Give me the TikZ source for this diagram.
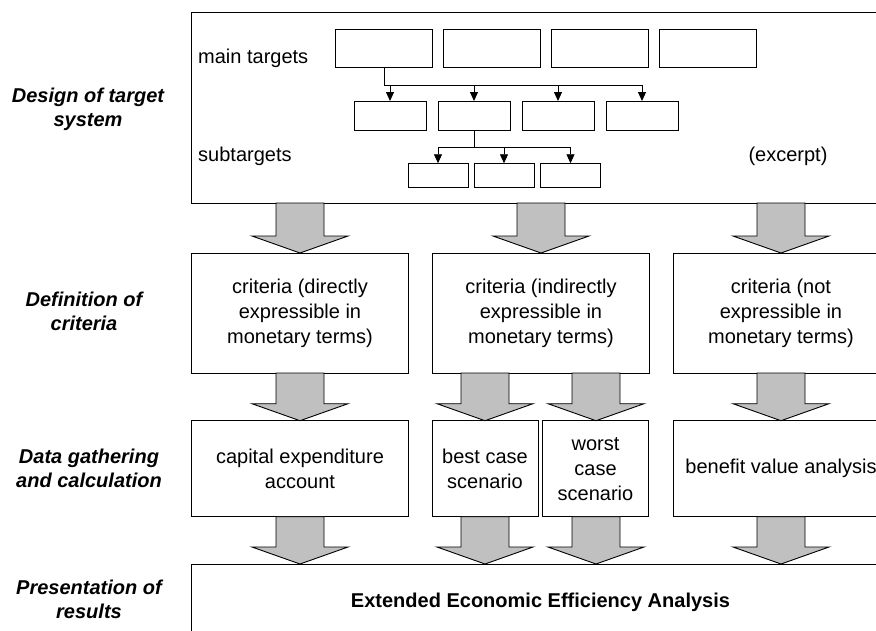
\documentclass[tikz,border=0pt]{standalone}
\usepackage{fontspec}
\setmainfont{Liberation Sans}
\usetikzlibrary{arrows.meta,calc}
\definecolor{arrowgray}{RGB}{192,192,192}
\tikzset{
  box/.style={draw=black, line width=0.9pt, fill=white, inner sep=0pt, outer sep=0pt,
              align=center, font=\fontsize{20}{25}\selectfont},
  lbl/.style={align=center, inner sep=0pt, font=\fontsize{20}{24}\selectfont\bfseries\itshape},
  txt/.style={inner sep=0pt, font=\fontsize{20}{25}\selectfont},
  conn/.style={draw=black, line width=0.9pt},
  tipped/.style={-{Triangle[length=9pt,width=8pt]}},
  big/.style={draw=black, line width=0.9pt, fill=arrowgray, line join=miter},
}
% #1 = x centre, #2 = source node, #3 = target node
\newcommand\garrow[3]{%
  \draw[big] let \p1=(#2.south), \p2=(#3.north) in
    (#1pt-24pt,\y1) -- (#1pt-24pt,\y2+17pt) -- (#1pt-48pt,\y2+17pt) -- (#1pt,\y2)
    -- (#1pt+48pt,\y2+17pt) -- (#1pt+24pt,\y2+17pt) -- (#1pt+24pt,\y1) -- cycle;}
\begin{document}
\begin{tikzpicture}[x=1pt,y=-1pt]
\useasboundingbox (0,0) rectangle (876,630);
\clip (0,0) rectangle (876,630);

% left labels
\node[lbl] (l1) at (88,109) {Design of target\\system};
\node[lbl] (l2) at (84,311.5) {Definition of\\criteria};
\node[lbl] (l3) at (89,468.5) {Data gathering\\and calculation};
\node[lbl] (l4) at (89,599.5) {Presentation of\\results};

% target system
\node[box, minimum width=699pt, minimum height=191pt] (top) at (540.5,107.5) {};
\node[txt, anchor=west] (mt) at (198,58) {main targets};
\node[txt, anchor=west] (st) at (198,156) {subtargets};
\node[txt] (ex) at (788,156) {(excerpt)};

\foreach \i/\cx in {1/384,2/492,3/600,4/708}
  \node[box, minimum width=97pt, minimum height=38pt] (m\i) at (\cx,48) {};
\foreach \i/\cx in {1/390,2/474,3/558,4/642}
  \node[box, minimum width=72pt, minimum height=29pt] (s\i) at (\cx,115.5) {};
\foreach \i/\cx in {1/438,2/504,3/570.5}
  \node[box, minimum width=60pt, minimum height=24.5pt] (t\i) at (\cx,175.5) {};

\coordinate (bar1) at (0,85);
\draw[conn] (m1.south) -- (m1.south |- bar1) -- (s4.north |- bar1);
\foreach \s in {s1,s2,s3,s4}
  \draw[conn,tipped] (\s.north |- bar1) -- (\s.north);
\coordinate (bar2) at (0,147);
\draw[conn] (s2.south) -- (s2.south |- bar2);
\draw[conn] (t1.north |- bar2) -- (t3.north |- bar2);
\foreach \t in {t1,t2,t3}
  \draw[conn,tipped] (\t.north |- bar2) -- (\t.north);

% criteria
\node[box, minimum width=217pt, minimum height=120pt] (c1) at (300,313)
  {criteria (directly\\expressible in\\monetary terms)};
\node[box, minimum width=217pt, minimum height=120pt] (c2) at (541,313)
  {criteria (indirectly\\expressible in\\monetary terms)};
\node[box, minimum width=216pt, minimum height=120pt] (c3) at (781,313)
  {criteria (not\\expressible in\\monetary terms)};

% data gathering
\node[box, minimum width=217pt, minimum height=96pt] (d1) at (300,468.7)
  {capital expenditure\\account};
\node[box, minimum width=106pt, minimum height=96pt] (d2) at (485,468.7)
  {best case\\scenario};
\node[box, minimum width=106pt, minimum height=96pt] (d3) at (595.5,468.7)
  {worst\\case\\scenario};
\node[box, minimum width=216pt, minimum height=96pt] (d4) at (781,468.7)
  {benefit value analysis};

% results
\node[box, minimum width=699pt, minimum height=76pt] (res) at (540.5,602)
  {\bfseries Extended Economic Efficiency Analysis};

% block arrows
\garrow{300}{top}{c1}
\garrow{541}{top}{c2}
\garrow{781}{top}{c3}
\garrow{300}{c1}{d1}
\garrow{485}{c2}{d2}
\garrow{596}{c2}{d3}
\garrow{781}{c3}{d4}
\garrow{300}{d1}{res}
\garrow{485}{d2}{res}
\garrow{596}{d3}{res}
\garrow{781}{d4}{res}
\end{tikzpicture}
\end{document}
